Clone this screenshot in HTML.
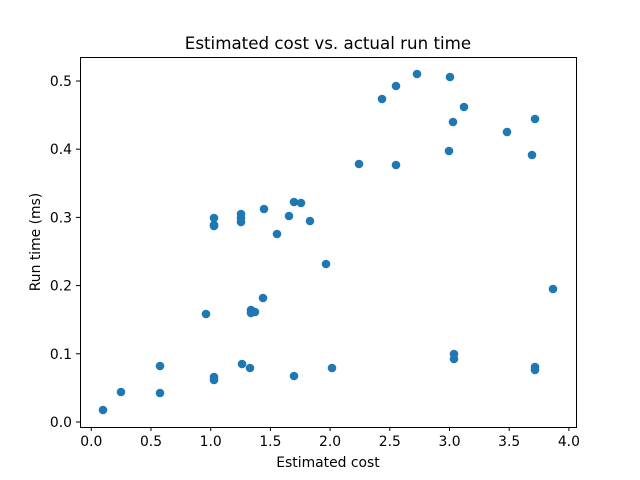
<!DOCTYPE html>
<html><head><style>body{margin:0;background:#fff}svg{display:block}text{font-family:"DejaVu Sans","Liberation Sans",sans-serif;fill:#000}</style></head>
<body>
<svg width="640" height="480" xmlns="http://www.w3.org/2000/svg">
<rect width="640" height="480" fill="#fff"/>
<g fill="#1f77b4">
<circle cx="103" cy="410" r="4.3"/><circle cx="121" cy="392" r="4.3"/><circle cx="160" cy="366" r="4.3"/><circle cx="160" cy="393" r="4.3"/><circle cx="206" cy="314" r="4.3"/><circle cx="214" cy="218" r="4.3"/><circle cx="214" cy="225" r="4.3"/><circle cx="214" cy="226" r="4.3"/><circle cx="214" cy="377" r="4.3"/><circle cx="214" cy="380" r="4.3"/><circle cx="241" cy="214" r="4.3"/><circle cx="241" cy="218" r="4.3"/><circle cx="241" cy="222" r="4.3"/><circle cx="242" cy="364" r="4.3"/><circle cx="250" cy="368" r="4.3"/><circle cx="251" cy="310" r="4.3"/><circle cx="251" cy="313" r="4.3"/><circle cx="255" cy="312" r="4.3"/><circle cx="263" cy="298" r="4.3"/><circle cx="264" cy="209" r="4.3"/><circle cx="277" cy="234" r="4.3"/><circle cx="289" cy="216" r="4.3"/><circle cx="294" cy="202" r="4.3"/><circle cx="294" cy="376" r="4.3"/><circle cx="301" cy="203" r="4.3"/><circle cx="310" cy="221" r="4.3"/><circle cx="326" cy="264" r="4.3"/><circle cx="332" cy="368" r="4.3"/><circle cx="359" cy="164" r="4.3"/><circle cx="382" cy="99" r="4.3"/><circle cx="396" cy="86" r="4.3"/><circle cx="396" cy="165" r="4.3"/><circle cx="417" cy="74" r="4.3"/><circle cx="449" cy="151" r="4.3"/><circle cx="450" cy="77" r="4.3"/><circle cx="453" cy="122" r="4.3"/><circle cx="454" cy="354" r="4.3"/><circle cx="454" cy="359" r="4.3"/><circle cx="464" cy="107" r="4.3"/><circle cx="507" cy="132" r="4.3"/><circle cx="532" cy="155" r="4.3"/><circle cx="535" cy="119" r="4.3"/><circle cx="535" cy="367" r="4.3"/><circle cx="535" cy="370" r="4.3"/><circle cx="553" cy="289" r="4.3"/>
</g>
<rect x="80.5" y="57.5" width="496" height="370" fill="none" stroke="#000" stroke-width="1"/>
<g stroke="#000" stroke-width="1">
<line x1="91.3" y1="427" x2="91.3" y2="431"/><line x1="151" y1="427" x2="151" y2="431"/><line x1="210.7" y1="427" x2="210.7" y2="431"/><line x1="270.4" y1="427" x2="270.4" y2="431"/><line x1="330.1" y1="427" x2="330.1" y2="431"/><line x1="389.8" y1="427" x2="389.8" y2="431"/><line x1="449.5" y1="427" x2="449.5" y2="431"/><line x1="509.2" y1="427" x2="509.2" y2="431"/><line x1="568.9" y1="427" x2="568.9" y2="431"/>
<line x1="76" y1="422" x2="80.5" y2="422"/><line x1="76" y1="353.8" x2="80.5" y2="353.8"/><line x1="76" y1="285.6" x2="80.5" y2="285.6"/><line x1="76" y1="217.4" x2="80.5" y2="217.4"/><line x1="76" y1="149.2" x2="80.5" y2="149.2"/><line x1="76" y1="81" x2="80.5" y2="81"/>
</g>
<g font-size="13.9" text-anchor="middle">
<text x="91.3" y="446">0.0</text><text x="151" y="446">0.5</text><text x="210.7" y="446">1.0</text><text x="270.4" y="446">1.5</text><text x="330.1" y="446">2.0</text><text x="389.8" y="446">2.5</text><text x="449.5" y="446">3.0</text><text x="509.2" y="446">3.5</text><text x="568.9" y="446">4.0</text>
</g>
<g font-size="13.9" text-anchor="end">
<text x="72" y="427">0.0</text><text x="72" y="358.8">0.1</text><text x="72" y="290.6">0.2</text><text x="72" y="222.4">0.3</text><text x="72" y="154.2">0.4</text><text x="72" y="86">0.5</text>
</g>
<text x="328" y="467" font-size="13.9" text-anchor="middle">Estimated cost</text>
<text transform="translate(40,242) rotate(-90)" font-size="13.9" text-anchor="middle">Run time (ms)</text>
<text x="328" y="49" font-size="16.7" text-anchor="middle">Estimated cost vs. actual run time</text>
</svg>
</body></html>
